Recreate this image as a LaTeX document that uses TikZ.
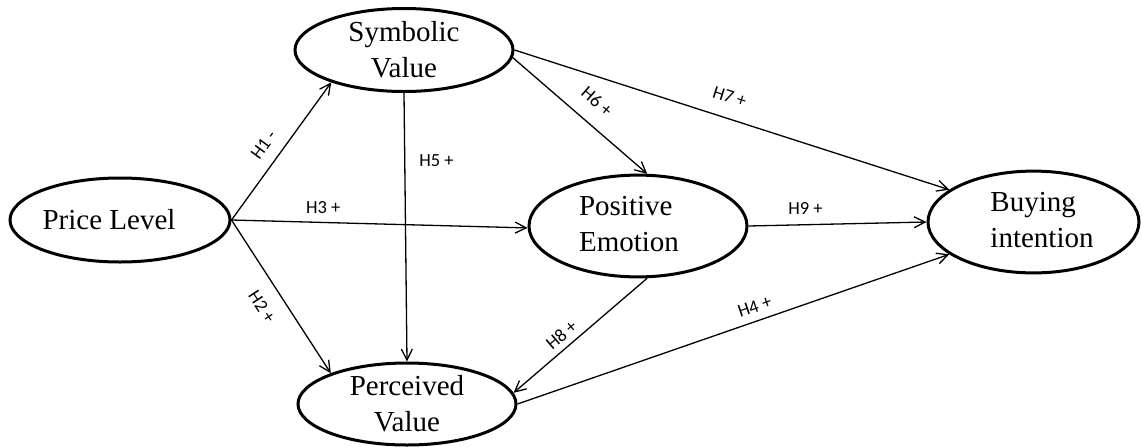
\documentclass[tikz,border=0pt]{standalone}
\usepackage{fontspec}
\setmainfont{Liberation Serif}
\newfontfamily\lblfont{Carlito}
\usetikzlibrary{arrows.meta,shapes.geometric}
\newcommand{\lft}[2]{\begin{tabular}{@{}l@{}}#1\\#2\end{tabular}}
\begin{document}
\begin{tikzpicture}[x=0.5pt,y=-0.5pt,
  var/.style={ellipse,draw,line width=1.5pt,inner sep=0pt,
    font=\fontsize{14.5}{18}\selectfont,align=center},
  arr/.style={draw,line width=0.65pt,-{Straight Barb[length=5.5pt,width=5.5pt]}},
  lbl/.style={font=\lblfont\fontsize{9.25}{11}\selectfont,inner sep=1.5pt}]
\useasboundingbox (0,0) rectangle (1142,446);
\node[var,minimum width=110pt,minimum height=42pt] (pl) at (120,220) {Price Level\hspace*{11pt}};
\node[var,minimum width=109pt,minimum height=41.5pt] (sv) at (404,50) {Symbolic\\Value};
\node[var,minimum width=109pt,minimum height=43pt] (pe) at (638,226) {\lft{Positive}{Emotion}\hspace*{9pt}};
\node[var,minimum width=105.5pt,minimum height=41pt] (bi) at (1033.5,222) {\hspace*{8.5pt}\lft{Buying}{intention}};
\node[var,minimum width=109pt,minimum height=41pt] (pv) at (407,404) {Perceived\\Value};
\draw[arr] (pl.east) -- (sv.204) node[lbl,pos=0.47,sloped,above=4.3pt]{H1 -};
\draw[arr] (pl.east) -- (pv.158) node[lbl,pos=0.49,sloped,below=6pt]{H2 +};
\draw[arr] (pl.east) -- (pe.181) node[lbl,pos=0.31,above=2.75pt]{H3 +};
\draw[arr] (sv.south) -- (pv.north) node[lbl,pos=0.25,right=5.5pt]{H5 +};
\draw[arr] (sv.356) -- (pe.80) node[lbl,pos=0.52,sloped,above=6pt]{H6 +};
\draw[arr] (sv.east) -- (bi.159) node[lbl,pos=0.48,sloped,above=5.85pt]{H7 +};
\draw[arr] (pe.east) -- (bi.west) node[lbl,pos=0.32,above=3.5pt]{H9 +};
\draw[arr] (pe.280) -- (pv.6) node[lbl,pos=0.58,sloped,above=1.5pt]{H8 +};
\draw[arr] (pv.east) -- (bi.201) node[lbl,pos=0.56,sloped,above=2.4pt]{H4 +};
\end{tikzpicture}
\end{document}
